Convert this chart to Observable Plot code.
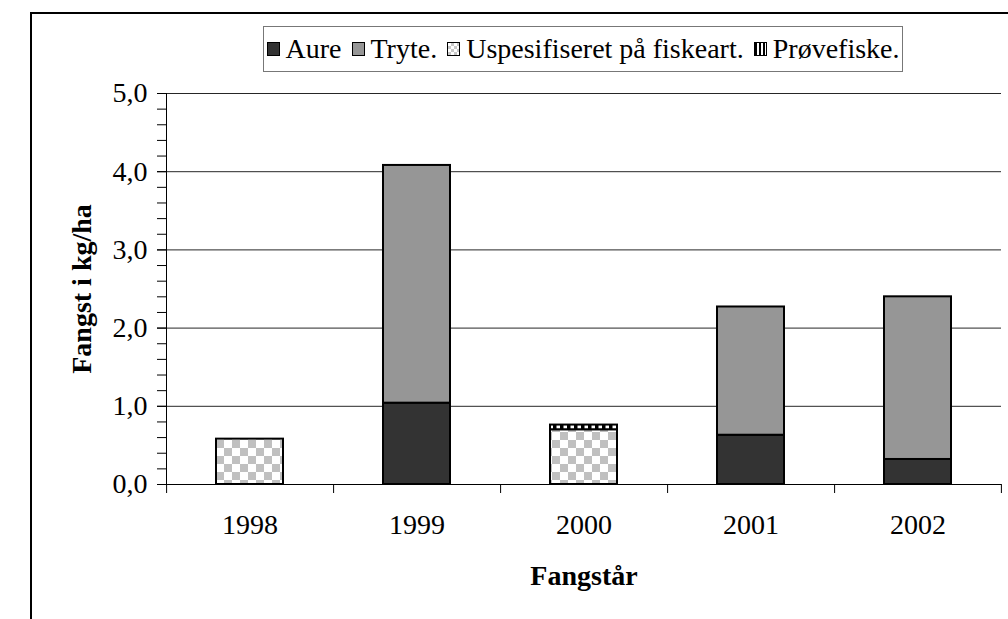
<!DOCTYPE html>
<html>
<head>
<meta charset="utf-8">
<script src="https://cdn.jsdelivr.net/npm/d3@7"></script>
<script src="https://cdn.jsdelivr.net/npm/@observablehq/plot@0.6"></script>
<style>
  html, body { margin: 0; padding: 0; background: #fff; }
  body { width: 1008px; height: 619px; position: relative; overflow: hidden; font-family: "Liberation Serif", "Times New Roman", serif; }
  #frame { position: absolute; left: 30px; top: 12px; width: 1100px; height: 700px; border-left: 2px solid #000; border-top: 2px solid #000; }
  #chart { position: absolute; left: 0; top: 0; }
  #legend { position: absolute; left: 263px; top: 26px; width: 638px; height: 44px; border: 1px solid #777; background: #fff;
            display: flex; align-items: center; justify-content: center; font-size: 28px; color: #000; white-space: nowrap; }
  .item { display: flex; align-items: center; margin: 0 5px; }
  .sw { width: 13px; height: 14px; border: 1px solid #000; margin-right: 6px; box-sizing: border-box; }
</style>
</head>
<body>
<div id="frame"></div>
<div id="chart"></div>
<div id="legend"></div>
<script>
const years = ["1998", "1999", "2000", "2001", "2002"];
const seriesNames = ["Aure", "Tryte.", "Uspesifiseret på fiskeart.", "Prøvefiske."];
const aure = [0, 1.04, 0, 0.63, 0.32];
const tryte = [0, 3.04, 0, 1.64, 2.08];
const uspesifiseret = [0.58, 0, 0.70, 0, 0];
const provefiske = [0, 0, 0.06, 0, 0];
const yTicks = [0, 1, 2, 3, 4, 5];
const yMinorTicks = d3.range(0, 26).map(i => i / 5);
const fills = ["#333333", "#969696", "url(#checker)", "url(#stripes)"];

const seriesValues = [aure, tryte, uspesifiseret, provefiske];
const rows = [];
years.forEach((yr, i) => {
  seriesNames.forEach((s, j) => {
    const v = seriesValues[j][i];
    if (v > 0) rows.push({year: yr, series: s, value: v});
  });
});

const font = "'Liberation Serif', 'Times New Roman', serif";

const chart = Plot.plot({
  width: 1008,
  height: 619,
  marginLeft: 166,
  marginRight: 7,
  marginTop: 93,
  marginBottom: 135,
  style: {fontFamily: font, fontSize: "28px", background: "transparent", color: "#000"},
  x: {domain: years, paddingInner: 0.6, paddingOuter: 0.3, axis: null},
  y: {domain: [0, 5], axis: null},
  color: {type: "ordinal", domain: seriesNames, range: fills},
  marks: [
    Plot.gridY(yTicks.filter(d => d > 0), {stroke: "#000", strokeOpacity: 0.85, strokeWidth: 1}),
    Plot.barY(rows, {x: "year", y: "value", fill: "series", stroke: "#000", strokeWidth: 2, order: seriesNames}),
    Plot.ruleY([0], {stroke: "#000", strokeWidth: 1}),
    Plot.frame({anchor: "left", stroke: "#000", strokeWidth: 1}),
    Plot.axisY(yMinorTicks, {tickSize: 9, text: null, label: null, stroke: "#000", strokeWidth: 1}),
    Plot.axisY(yTicks, {tickSize: 9, tickPadding: 10, tickFormat: d => d.toFixed(1).replace(".", ","), fontSize: 28, label: null}),
    Plot.axisX(years, {tickSize: 9, text: null, label: null, dx: -83.4, stroke: "#000"}),
    Plot.axisX([years[years.length - 1]], {tickSize: 9, text: null, label: null, dx: 83.4, stroke: "#000"}),
    Plot.axisX(years, {tickSize: 0, tickPadding: 30, fontSize: 28, label: null}),
    Plot.text(["Fangstår"], {frameAnchor: "bottom", lineAnchor: "middle", textAnchor: "middle", dy: 92, fontWeight: "bold", fontSize: 28}),
    Plot.text(["Fangst i kg/ha"], {frameAnchor: "left", textAnchor: "middle", lineAnchor: "middle", dx: -84, rotate: -90, fontWeight: "bold", fontSize: 28})
  ]
});

// patterns
const ns = "http://www.w3.org/2000/svg";
const defs = document.createElementNS(ns, "defs");
defs.innerHTML = `
  <pattern id="checker" patternUnits="userSpaceOnUse" width="16" height="16">
    <rect width="16" height="16" fill="#ffffff"/>
    <rect x="0" y="0" width="8" height="8" fill="#c0c0c0"/>
    <rect x="8" y="8" width="8" height="8" fill="#c0c0c0"/>
  </pattern>
  <pattern id="stripes" patternUnits="userSpaceOnUse" width="7" height="7">
    <rect width="7" height="7" fill="#000"/>
    <rect x="3.5" y="0" width="3.5" height="7" fill="#fff"/>
  </pattern>`;
chart.insertBefore(defs, chart.firstChild);
document.getElementById("chart").appendChild(chart);

// legend
const swatchCss = [
  "background:#333333",
  "background:#969696",
  "background-color:#fff;background-image:conic-gradient(#c8c8c8 25%, #fff 0 50%, #c8c8c8 0 75%, #fff 0);background-size:6px 6px",
  "background:repeating-linear-gradient(90deg,#000 0 2px,#fff 2px 4px)"
];
const legend = document.getElementById("legend");
seriesNames.forEach((s, i) => {
  const it = document.createElement("div");
  it.className = "item";
  const sw = document.createElement("span");
  sw.className = "sw";
  sw.style.cssText = swatchCss[i];
  it.appendChild(sw);
  const t = document.createElement("span");
  t.textContent = s;
  it.appendChild(t);
  legend.appendChild(it);
});
</script>
</body>
</html>
